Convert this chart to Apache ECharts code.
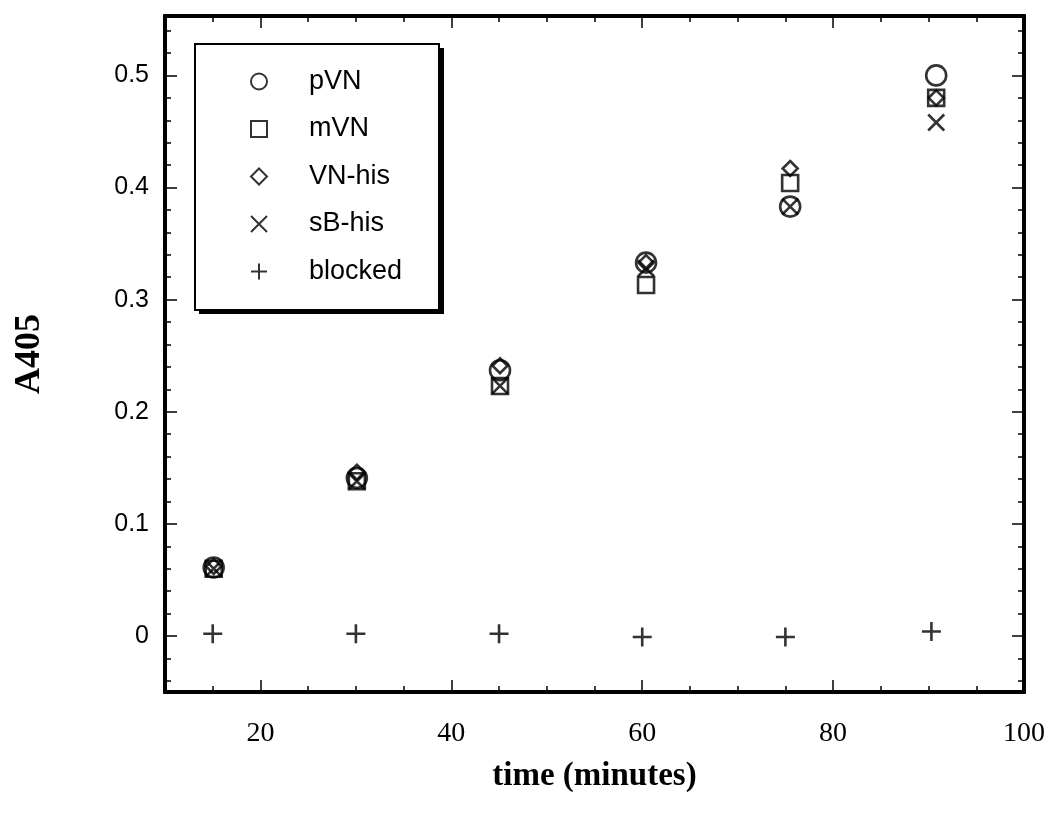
<!DOCTYPE html>
<html>
<head>
<meta charset="utf-8">
<script src="https://cdn.jsdelivr.net/npm/echarts@6/dist/echarts.min.js"></script>
<style>
html,body{margin:0;padding:0;background:#fff;}
#chart{width:1052px;height:813px;}
</style>
</head>
<body>
<div id="chart"></div>
<script>
// ---- data ----
var timeMain = [15.1, 30.1, 45.1, 60.4, 75.5, 90.8];
var timeBlocked = [15, 30, 45, 60, 75, 90.3];
var pVN = [0.061, 0.141, 0.237, 0.333, 0.383, 0.500];
var mVN = [0.060, 0.138, 0.223, 0.313, 0.404, 0.480];
var VNhis = [0.062, 0.146, 0.241, 0.333, 0.417, 0.480];
var sBhis = [0.060, 0.138, 0.223, 0.328, 0.383, 0.458];
var blocked = [0.002, 0.002, 0.002, -0.001, -0.001, 0.004];

var xMajorTicks = [20, 40, 60, 80, 100];
var xMinorTicks = [15, 25, 30, 35, 45, 50, 55, 65, 70, 75, 85, 90, 95];
var yMajorTicks = [0, 0.1, 0.2, 0.3, 0.4, 0.5];
var yMinorTicks = [-0.04, -0.02, 0.02, 0.04, 0.06, 0.08, 0.12, 0.14, 0.16, 0.18,
  0.22, 0.24, 0.26, 0.28, 0.32, 0.34, 0.36, 0.38, 0.42, 0.44, 0.46, 0.48, 0.52, 0.54];

var seriesNames = ['pVN', 'mVN', 'VN-his', 'sB-his', 'blocked'];

function pairs(xs, ys) { return xs.map(function (x, i) { return [x, ys[i]]; }); }

var chart = echarts.init(document.getElementById('chart'), null, {renderer: 'canvas'});

var XMIN = 10, XMAX = 100, YMIN = -0.05, YMAX = 0.553;

function xAx(pos, major, labels) {
  return {
    type: 'value', min: XMIN, max: XMAX, position: pos,
    axisLine: {show: true, onZero: false, lineStyle: {color: '#000', width: 4}},
    axisTick: {show: true, inside: true, length: major ? 12 : 6,
      customValues: major ? xMajorTicks : xMinorTicks,
      lineStyle: {color: '#000', width: 1.5}},
    axisLabel: labels ? {show: true, customValues: xMajorTicks, margin: 28,
      fontFamily: 'Liberation Serif', fontSize: 28, color: '#000'} : {show: false},
    splitLine: {show: false},
    name: labels ? 'time (minutes)' : '',
    nameLocation: 'middle', nameGap: 68,
    nameTextStyle: {fontFamily: 'Liberation Serif', fontWeight: 'bold', fontSize: 33, color: '#000'}
  };
}
function yAx(pos, major, labels) {
  return {
    type: 'value', min: YMIN, max: YMAX, position: pos,
    axisLine: {show: true, onZero: false, lineStyle: {color: '#000', width: 4}},
    axisTick: {show: true, inside: true, length: major ? 12 : 6,
      customValues: major ? yMajorTicks : yMinorTicks,
      lineStyle: {color: '#000', width: 1.5}},
    axisLabel: labels ? {show: true, customValues: yMajorTicks, margin: 16,
      fontFamily: 'Liberation Sans', fontSize: 25, color: '#000',
      formatter: function (v) { return Math.abs(v) < 1e-9 ? '0' : String(Math.round(v * 10) / 10); }} : {show: false},
    splitLine: {show: false},
    name: labels ? 'A405' : '',
    nameLocation: 'middle', nameGap: 117, nameRotate: 90,
    nameTextStyle: {fontFamily: 'Liberation Serif', fontWeight: 'bold', fontSize: 36, color: '#000'}
  };
}

var stroke = {color: 'transparent', borderColor: '#000', borderWidth: 2.6};

function sc(name, xs, ys, symbol, size) {
  return {
    name: name, type: 'scatter', xAxisIndex: 0, yAxisIndex: 0,
    data: pairs(xs, ys), symbol: symbol, symbolSize: size,
    itemStyle: stroke, emphasis: {disabled: true}, z: 5
  };
}

var option = {
  backgroundColor: '#fff',
  animation: false,
  grid: {left: 165, right: 28, top: 16, bottom: 121, containLabel: false},
  xAxis: [xAx('bottom', true, true), xAx('bottom', false, false), xAx('top', true, false), xAx('top', false, false)],
  yAxis: [yAx('left', true, true), yAx('left', false, false), yAx('right', true, false), yAx('right', false, false)],
  graphic: [{
    type: 'rect', left: 199, top: 48, z: 3,
    shape: {width: 245, height: 266},
    style: {fill: '#000', stroke: null}
  }, {
    type: 'rect', left: 194, top: 43, z: 3,
    shape: {width: 244, height: 266},
    style: {fill: '#fff', stroke: '#000', lineWidth: 2}
  }],
  legend: {
    show: true, orient: 'vertical', left: 245, top: 63, z: 6,
    data: seriesNames, selectedMode: false,
    itemWidth: 16, itemHeight: 16, itemGap: 20.5,
    textStyle: {fontFamily: 'Liberation Sans', fontSize: 27, color: '#000', lineHeight: 26, padding: [0, 0, 0, 37]}
  },
  series: [
    sc('pVN', timeMain, pVN, 'circle', 20),
    sc('mVN', timeMain, mVN, 'rect', 16),
    sc('VN-his', timeMain, VNhis, 'diamond', 15),
    sc('sB-his', timeMain, sBhis, 'path://M0,0L10,10M10,0L0,10', 16),
    sc('blocked', timeBlocked, blocked, 'path://M5,0L5,10M0,5L10,5', 19)
  ]
};
chart.setOption(option);
</script>
</body>
</html>
